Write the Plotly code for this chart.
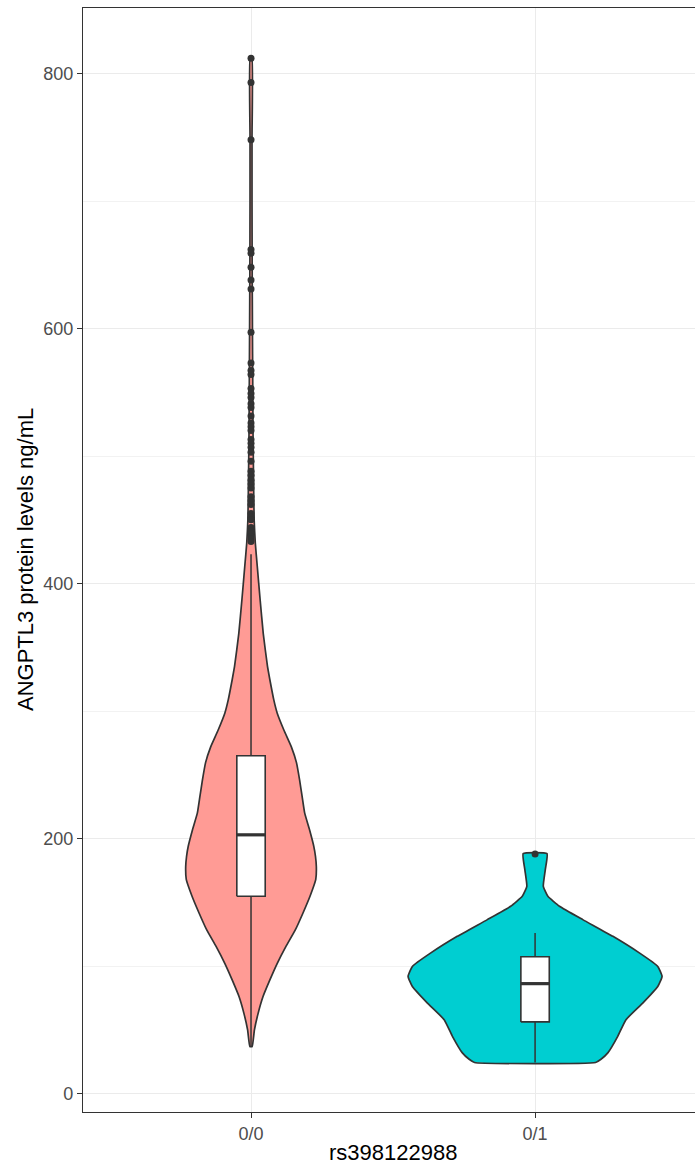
import plotly.graph_objects as go

# Genotype groups
groups = ["0/0", "0/1"]
group_pos = [1, 2]
fill_colors = ["#FF9B95", "#00CED1"]

# Violin outline: protein level (ng/mL) and half-width (x-axis units)
v00_levels = [37, 50, 63, 76, 89, 102, 115.5, 128, 141.7, 155, 168, 178, 186, 194,
              207, 220, 233, 246, 259.6, 272, 285, 298.6, 309, 325, 335, 361,
              387.5, 413.6, 432, 450, 480, 520, 560, 600, 650, 700, 750, 812]
v00_width = [0.004, 0.012, 0.025, 0.042, 0.066, 0.092, 0.123, 0.155, 0.183, 0.208,
             0.228, 0.230, 0.227, 0.221, 0.206, 0.189, 0.180, 0.171, 0.160, 0.142,
             0.116, 0.092, 0.080, 0.066, 0.058, 0.043, 0.032, 0.022, 0.015, 0.011,
             0.009, 0.007, 0.006, 0.005, 0.004, 0.0035, 0.0035, 0.003]

v01_levels = [24.5, 27, 32, 45, 58, 71, 84, 92, 99.8, 110.4, 123.4, 136.5, 147, 154.8,
              162.6, 175.7, 188.2]
v01_width = [0.213, 0.232, 0.256, 0.291, 0.320, 0.379, 0.432, 0.447, 0.432, 0.367, 0.274,
             0.168, 0.086, 0.045, 0.029, 0.036, 0.042]

# Box summaries per group
box_q1 = [154.8, 56.3]
box_median = [203, 86.3]
box_q3 = [265, 107.4]
box_low = [37, 24.5]
box_high = [423, 126]

# Outlying observations
out00 = [812, 793, 748, 662, 659, 648, 638, 631, 597, 573, 567, 564, 553, 549, 546,
         541, 538, 531.5, 526, 523, 520, 513, 510, 507, 503, 496, 488, 485, 481, 478,
         475, 468, 465, 462, 455, 452, 450, 444, 441, 439, 437, 435, 433]
out01 = [188]

dark = "#333333"
box_w = 0.1
font_family = "Liberation Sans, Arial, sans-serif"

fig = go.Figure()

# violins as closed outlines
profiles = [(v00_levels, v00_width), (v01_levels, v01_width)]
for pos, (lv, wd), col in zip(group_pos, profiles, fill_colors):
    xs = [pos - w for w in wd] + [pos + w for w in reversed(wd)] + [pos - wd[0]]
    ys = list(lv) + list(reversed(lv)) + [lv[0]]
    fig.add_trace(go.Scatter(
        x=xs, y=ys, mode="lines", fill="toself", fillcolor=col,
        line=dict(color=dark, width=1.7, shape="spline", smoothing=0.4),
        hoverinfo="skip", showlegend=False))

# box-and-whisker drawn on top of each violin
for i, pos in enumerate(group_pos):
    lo, hi = pos - box_w / 2, pos + box_w / 2
    # whiskers
    fig.add_trace(go.Scatter(
        x=[pos, pos, None, pos, pos],
        y=[box_low[i], box_q1[i], None, box_q3[i], box_high[i]],
        mode="lines", line=dict(color=dark, width=1.5),
        showlegend=False, hoverinfo="skip"))
    # box body
    fig.add_trace(go.Scatter(
        x=[lo, hi, hi, lo, lo],
        y=[box_q1[i], box_q1[i], box_q3[i], box_q3[i], box_q1[i]],
        mode="lines", fill="toself", fillcolor="white",
        line=dict(color=dark, width=1.6),
        showlegend=False, hoverinfo="skip"))
    # median bar
    fig.add_trace(go.Scatter(
        x=[lo, hi], y=[box_median[i], box_median[i]],
        mode="lines", line=dict(color=dark, width=3.2),
        showlegend=False, hoverinfo="skip"))

for pos, pts in zip(group_pos, [out00, out01]):
    fig.add_trace(go.Scatter(
        x=[pos] * len(pts), y=pts, mode="markers",
        marker=dict(color=dark, size=7, line=dict(width=0)),
        showlegend=False, hoverinfo="skip"))

fig.update_layout(
    width=695, height=1165,
    margin=dict(l=83, r=0, t=8, b=53),
    paper_bgcolor="white", plot_bgcolor="white",
    font=dict(family=font_family),
    xaxis=dict(
        range=[0.4085, 2.563], tickvals=group_pos, ticktext=groups,
        showgrid=True, gridcolor="#EBEBEB", gridwidth=1.1,
        showline=True, linecolor=dark, linewidth=1.1, mirror=True,
        ticks="outside", ticklen=5, tickcolor=dark, tickwidth=1.1,
        tickfont=dict(size=18, color="#4D4D4D", family=font_family),
        zeroline=False, automargin=False),
    yaxis=dict(
        range=[-14.35, 851.35], tick0=0, dtick=200,
        showgrid=True, gridcolor="#EBEBEB", gridwidth=1.1,
        minor=dict(dtick=100, showgrid=True, gridcolor="#F2F2F2", gridwidth=0.6),
        showline=True, linecolor=dark, linewidth=1.1,
        ticks="outside", ticklen=5, tickcolor=dark, tickwidth=1.1,
        tickfont=dict(size=18, color="#4D4D4D", family=font_family),
        zeroline=False, automargin=False),
)

# axis titles
plot_h = 1165 - 8 - 53
fig.add_annotation(
    text="rs398122988", xref="paper", yref="paper",
    x=(393 - 83) / 612, y=-(1152 - 1112) / plot_h,
    showarrow=False, font=dict(size=22, color="black", family=font_family),
    xanchor="center", yanchor="middle")
fig.add_annotation(
    text="ANGPTL3 protein levels ng/mL", xref="paper", yref="paper",
    x=-(83 - 25) / 612, y=0.5, textangle=-90,
    showarrow=False, font=dict(size=22, color="black", family=font_family),
    xanchor="center", yanchor="middle")

fig.write_html("out.html")
